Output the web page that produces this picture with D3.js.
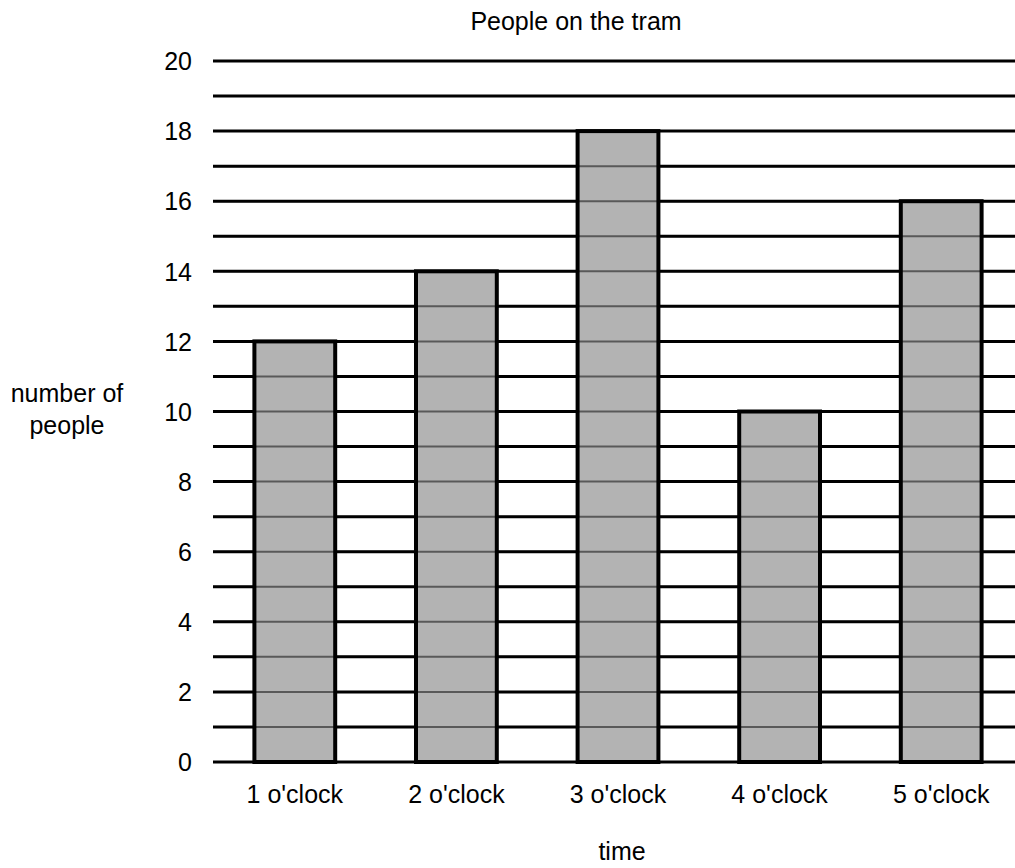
<!doctype html>
<html lang="en">
<head>
 <meta charset="utf-8">
 <script src="https://cdn.jsdelivr.net/npm/d3@7"></script>
 <title>People on the tram</title>
 <style>
  body { margin: 0; background: #fff; }
  text { font-family: "Liberation Sans", Arial, sans-serif; fill: #000; }
 </style>
</head>
<body>
<div id="chart"></div>
<script>
    var categories = ["1 o'clock", "2 o'clock", "3 o'clock", "4 o'clock", "5 o'clock"];
    var people     = [12, 14, 18, 10, 16];
    var yTicks     = [0, 2, 4, 6, 8, 10, 12, 14, 16, 18, 20];
    var gridValues = d3.range(0, 21);

    var width = 1015, height = 868;
    var plotLeft = 213, plotRight = 1015, plotTop = 61, plotBottom = 762;
    var fs = 25;

    // bands run a bit past the right edge of the grid, as in the original
    var x = d3.scaleBand().domain(categories).range([214, 1022]).paddingInner(0.5).paddingOuter(0.25);
    var y = d3.scaleLinear().domain([0, 20]).range([plotBottom, plotTop]);

    var svg = d3.select("#chart").append("svg")
        .attr("width", width)
        .attr("height", height);

    // grid lines behind the bars
    svg.append("g").selectAll("line").data(gridValues).enter().append("line")
        .attr("x1", plotLeft).attr("x2", plotRight)
        .attr("y1", function (d) { return y(d); })
        .attr("y2", function (d) { return y(d); })
        .attr("stroke", "#000")
        .attr("stroke-width", 3);

    // bar fill
    svg.append("g").selectAll("rect").data(people).enter().append("rect")
        .attr("x", function (d, i) { return x(categories[i]); })
        .attr("y", function (d) { return y(d); })
        .attr("width", x.bandwidth())
        .attr("height", function (d) { return plotBottom - y(d); })
        .attr("fill", "#b3b3b3");

    // grid lines again, faint, showing through the bars
    svg.append("g").selectAll("line").data(gridValues).enter().append("line")
        .attr("x1", plotLeft).attr("x2", plotRight)
        .attr("y1", function (d) { return y(d); })
        .attr("y2", function (d) { return y(d); })
        .attr("stroke", "#000")
        .attr("stroke-opacity", 0.5)
        .attr("stroke-width", 2);

    // bar outlines
    svg.append("g").selectAll("rect").data(people).enter().append("rect")
        .attr("x", function (d, i) { return x(categories[i]); })
        .attr("y", function (d) { return y(d); })
        .attr("width", x.bandwidth())
        .attr("height", function (d) { return plotBottom - y(d); })
        .attr("fill", "none")
        .attr("stroke", "#000")
        .attr("stroke-width", 4);

    // y axis labels
    var yAxis = d3.axisLeft(y).tickValues(yTicks).tickSize(0).tickPadding(0);
    var ya = svg.append("g").attr("transform", "translate(192,0)").call(yAxis);
    ya.select(".domain").remove();
    ya.selectAll("text").attr("font-size", fs).attr("dy", "0.35em")
        .style("font-family", "'Liberation Sans', Arial, sans-serif");

    // x axis labels
    var xAxis = d3.axisBottom(x).tickSize(0).tickPadding(0);
    var xa = svg.append("g").attr("transform", "translate(0,785)").call(xAxis);
    xa.select(".domain").remove();
    xa.selectAll("text").attr("font-size", fs).attr("dy", "0.71em")
        .style("font-family", "'Liberation Sans', Arial, sans-serif");

    // title and axis titles
    svg.append("text")
        .attr("x", 576).attr("y", 30)
        .attr("text-anchor", "middle")
        .attr("font-size", fs)
        .text("People on the tram");

    svg.append("text")
        .attr("x", 622).attr("y", 860)
        .attr("text-anchor", "middle")
        .attr("font-size", fs)
        .text("time");

    var ylab = svg.append("text")
        .attr("text-anchor", "middle")
        .attr("font-size", fs);
    ylab.append("tspan").attr("x", 67).attr("y", 402).text("number of");
    ylab.append("tspan").attr("x", 67).attr("y", 434).text("people");
</script>
</body>
</html>
